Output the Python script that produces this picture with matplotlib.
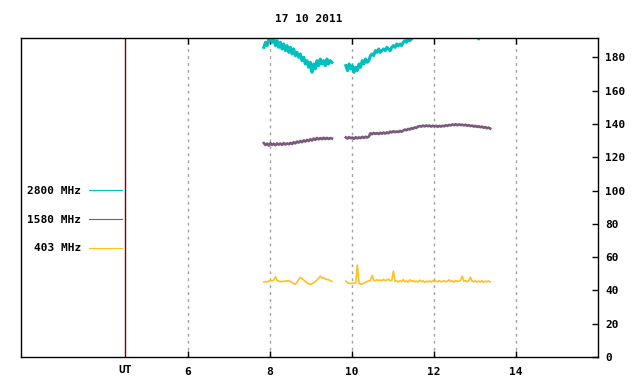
import numpy as np
import matplotlib
matplotlib.use('Agg')
import matplotlib.pyplot as plt

plt.rcParams['font.family'] = 'DejaVu Sans Mono'
plt.rcParams['font.weight'] = 'bold'
plt.rcParams['font.size'] = 8

title = '17 10 2011'
labels = ['2800 MHz', '1580 MHz', '403 MHz']
colors = ['#00bfbf', '#7a5a7a', '#ffc020']
widths = [2.2, 1.9, 1.2]

# two observing sessions, evenly sampled
seg1 = (7.85, 9.51)
seg2 = (9.85, 13.37)

# 2800 MHz (sfu)
f2800_a = [186, 189, 187, 191, 193, 189, 191, 187, 190, 186,
           189, 185, 188, 184, 187, 183, 186, 182, 185, 181,
           183, 180, 182, 178, 180, 176, 178, 174, 177, 171,
           176, 173, 178, 175, 179, 176, 178, 175, 179, 176,
           178, 177]
f2800_b = [175, 172, 176, 173, 175, 171, 174, 172, 176, 174,
           178, 176, 179, 177, 178,
           181, 182, 181,
           184, 183, 185, 183, 184, 185, 184, 186, 185, 184, 186,
           187, 186, 188, 187, 188, 187, 189,
           190, 189, 191, 190, 191, 192, 193, 194,
           196, 197, 199, 198, 200, 201, 200, 202, 203, 202,
           204, 203, 205, 204, 206, 205, 204, 206, 205, 204,
           203, 204, 202, 203, 201, 202, 200, 201, 199, 200,
           198, 199, 197, 198, 196, 197, 194, 191, 195, 197,
           198, 199, 200, 199, 200]

# 1580 MHz
f1580_a = [128.5, 127.3, 128.2, 127.0, 128.4, 127.4, 128.1, 127.2, 128.3, 127.5,
           128.2, 127.4, 128.5, 127.6, 128.3, 127.8, 128.6, 127.9, 129.0, 128.3,
           129.4, 128.8, 129.8, 129.0, 130.1, 129.4, 130.4, 129.7, 130.8, 130.0,
           131.2, 130.4, 131.6, 130.7, 131.5, 130.8, 131.7, 130.9, 131.6, 130.9,
           131.5, 131.2]
f1580_b = [131.9, 131.2, 132.1, 131.4, 131.8, 131.0, 132.0, 131.3, 131.9, 131.5,
           132.2, 131.6, 132.3, 131.8, 132.4,
           134.4, 133.8, 134.6, 134.0, 134.5,
           133.9, 134.7, 134.1, 134.8, 134.2, 134.9, 134.4,
           135.4, 134.9, 135.6, 135.0, 135.5, 135.1, 135.8, 135.3, 136.0,
           136.6, 136.2, 137.0, 136.6, 137.5, 137.1, 137.9, 137.6, 138.4, 138.7,
           138.4, 139.0, 138.5, 139.1, 138.6, 139.0, 138.4, 138.9, 138.5, 138.9,
           138.3, 138.8, 138.4, 138.9, 138.6, 139.2, 138.8, 139.4,
           139.1, 139.7, 139.3, 139.8, 139.2, 139.7, 139.3, 139.6, 139.1, 139.5,
           138.9, 139.3, 138.7,
           139.0, 138.4, 138.8, 138.2, 138.6, 138.0, 138.4, 137.7, 138.1, 137.4,
           137.8, 137.2]

# 403 MHz
f403_a = [45.0, 45.3, 45.0, 45.6, 46.0, 45.7, 46.3, 48.2, 46.0, 45.6,
          45.2, 45.4, 45.3, 45.8, 45.6, 45.9, 45.2, 44.8, 44.0, 43.8,
          44.9, 46.5, 47.8, 47.0, 46.2, 45.4, 44.6, 44.0, 43.6, 43.9,
          44.6, 45.3, 46.2, 47.4, 48.6, 47.3, 47.8, 46.8, 46.5, 46.4,
          45.9, 45.4]
f403_b = [45.6, 44.6, 44.3, 44.1, 44.4, 44.2, 44.5, 55.3, 44.2, 43.7,
          43.8, 44.3, 44.8, 45.3, 45.8, 46.0, 49.0, 46.2, 45.8, 46.4,
          45.9, 46.3, 45.8, 46.6, 45.9, 46.2, 46.8, 45.7, 46.1, 51.6,
          45.4, 45.6, 45.1, 45.8, 45.3, 46.5, 45.2, 45.7, 45.0, 46.3,
          45.4, 45.9, 45.1, 45.6, 45.0, 46.2, 45.3, 45.8, 44.8, 45.5,
          45.2, 45.7, 45.0, 46.0, 45.3, 45.6, 45.1, 45.9, 45.2, 45.4,
          45.8, 45.1, 45.6, 46.4, 45.3, 45.7, 45.0, 45.9, 45.4, 45.6,
          46.0, 48.6, 45.5, 45.9, 45.2, 45.8, 47.9, 45.6, 45.2, 45.7,
          45.0, 45.6, 45.1, 45.8, 45.0, 45.5, 45.2, 45.7, 45.1]

xticks = [6, 8, 10, 12, 14]
yticks = list(range(0, 200, 20))
ut_pos = 4.46

series = [(f2800_a, f2800_b), (f1580_a, f1580_b), (f403_a, f403_b)]

fig = plt.figure(figsize=(6.4, 3.84), dpi=100)
ax = fig.add_axes([20.5 / 640, 27 / 384, 577.5 / 640, 319 / 384])

for (a, b), lab, col, w in zip(series, labels, colors, widths):
    ta = np.linspace(seg1[0], seg1[1], len(a))
    tb = np.linspace(seg2[0], seg2[1], len(b))
    ax.plot(ta, a, color=col, lw=w, label=lab)
    ax.plot(tb, b, color=col, lw=w)

ax.axvline(ut_pos, color='#800000', lw=1)
ax.text(ut_pos, -0.025, 'UT', transform=ax.get_xaxis_transform(),
        ha='center', va='top', fontsize=8, fontweight='bold')

ax.set_xlim(1.915, 16.0)
ax.set_ylim(0, 191.6)
ax.set_xticks(xticks)
ax.set_yticks(yticks)
ax.grid(axis='x', color='#a0a0a0', ls=(0, (2, 3)), lw=1)
ax.yaxis.tick_right()
ax.tick_params(axis='x', direction='in', top=True, length=4, width=1, pad=7)
ax.tick_params(axis='y', direction='in', left=False, right=True, length=4,
               width=1, pad=5)
for s in ax.spines.values():
    s.set_linewidth(1)

leg = ax.legend(loc='center right', bbox_to_anchor=(0.176, 0.431), frameon=False,
                markerfirst=False, handlelength=3.0, handletextpad=0.7,
                labelspacing=1.7, borderpad=0, borderaxespad=0)
for h in leg.get_lines():
    h.set_linewidth(0.8)

fig.text(309 / 640, 1 - 19 / 384, title, ha='center', va='center',
         fontsize=8, fontweight='bold')

fig.savefig('out.png', dpi=100)
